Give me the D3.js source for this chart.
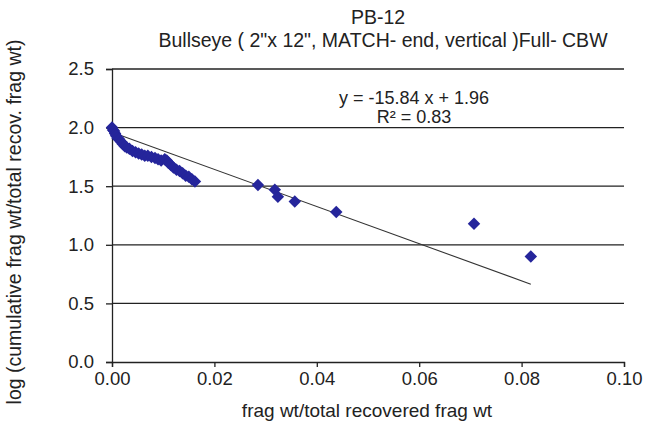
<!DOCTYPE html>
<html lang="en">
<head>
  <meta charset="UTF-8" />
  <title>PB-12 Bullseye scatter</title>
  <style>
    body { margin: 0; background: #fff; }
    svg { display: block; font-family: "Liberation Sans", Arial, sans-serif; }
  </style>
</head>
<body>
  <svg id="chart" width="659" height="437"></svg>
  <script src="https://d3js.org/d3.v7.min.js"></script>
  <script>
    // data
    const fragFrac = [0.0000,0.0002,0.0004,0.0006,0.0008,0.0011,0.0014,0.0018,0.0021,0.0025,
      0.0029,0.0034,0.0040,0.0046,0.0052,0.0058,0.0064,0.0070,0.0077,0.0084,0.0090,0.0096,
      0.0103,0.0107,0.0110,0.0115,0.0120,0.0126,0.0132,0.0138,0.0144,0.0150,0.0156,0.0162,
      0.0285,0.0318,0.0324,0.0357,0.0438,0.0707,0.0818];
    const logCum = [2.00,1.98,1.97,1.95,1.93,1.91,1.90,1.88,1.86,1.84,
      1.83,1.82,1.80,1.79,1.78,1.77,1.76,1.76,1.75,1.74,1.73,1.72,
      1.73,1.72,1.70,1.68,1.66,1.64,1.63,1.61,1.59,1.58,1.56,1.54,
      1.51,1.47,1.41,1.37,1.28,1.18,0.90];
    const slope = -15.84, intercept = 1.96;
    const xTicks = [0, 0.02, 0.04, 0.06, 0.08, 0.10];
    const yTicks = [0, 0.5, 1.0, 1.5, 2.0, 2.5];

    const svg = d3.select("#chart");
    const plotL = 112, plotR = 624, plotT = 69, plotB = 362;
    const ink = "#222";

    const x = d3.scaleLinear().domain([0, 0.10]).range([plotL, plotR]);
    const y = d3.scaleLinear().domain([0, 2.5]).range([plotB, plotT]);

    // gridlines
    svg.append("g")
      .selectAll("line")
      .data(yTicks.filter(d => d > 0))
      .enter().append("line")
      .attr("x1", plotL).attr("x2", plotR)
      .attr("y1", d => y(d)).attr("y2", d => y(d))
      .attr("stroke", ink).attr("stroke-width", 1.3);

    // y axis
    const yAxis = svg.append("g")
      .attr("transform", `translate(${plotL},0)`)
      .call(d3.axisLeft(y).tickValues(yTicks).tickFormat(d3.format(".1f")).tickSize(6).tickPadding(12));
    yAxis.select(".domain").attr("stroke", ink).attr("stroke-width", 1.3);
    yAxis.selectAll("line").attr("stroke", ink).attr("stroke-width", 1.3);
    yAxis.selectAll("text").attr("font-size", 18.5).attr("fill", ink)
      .attr("font-family", "Liberation Sans, Arial, sans-serif");

    // x axis
    const xAxis = svg.append("g")
      .attr("transform", `translate(0,${plotB})`)
      .call(d3.axisBottom(x).tickValues(xTicks).tickFormat(d3.format(".2f")).tickSize(5).tickPadding(5));
    xAxis.select(".domain").attr("stroke", ink).attr("stroke-width", 1.3);
    xAxis.selectAll("line").attr("stroke", ink).attr("stroke-width", 1.3);
    xAxis.selectAll("text").attr("font-size", 18.5).attr("fill", ink)
      .attr("font-family", "Liberation Sans, Arial, sans-serif");

    // trendline
    const xMax = d3.max(fragFrac);
    svg.append("line")
      .attr("x1", x(0)).attr("y1", y(intercept))
      .attr("x2", x(xMax)).attr("y2", y(intercept + slope * xMax))
      .attr("stroke", "#333").attr("stroke-width", 1.1);

    // square diamond marker
    const diamond = {
      draw(ctx, size) {
        const r = Math.sqrt(size / 2);
        ctx.moveTo(0, -r); ctx.lineTo(r, 0); ctx.lineTo(0, r); ctx.lineTo(-r, 0); ctx.closePath();
      }
    };
    const pts = fragFrac.map((v, i) => ({ fx: v, ly: logCum[i] }));
    svg.append("g")
      .selectAll("path")
      .data(pts)
      .enter().append("path")
      .attr("d", d3.symbol().type(diamond).size(78))
      .attr("transform", d => `translate(${x(d.fx)},${y(d.ly)})`)
      .attr("fill", "#25259b");

    // titles
    svg.append("text").attr("x", 378).attr("y", 24).attr("text-anchor", "middle")
      .attr("font-size", 19.5).attr("fill", ink).text("PB-12");
    svg.append("text").attr("x", 383).attr("y", 47).attr("text-anchor", "middle")
      .attr("font-size", 19.5).attr("fill", ink)
      .text("Bullseye  ( 2\"x 12\", MATCH- end, vertical )Full- CBW");

    // equation
    svg.append("text").attr("x", 414).attr("y", 104).attr("text-anchor", "middle")
      .attr("font-size", 18).attr("fill", ink).text("y = -15.84 x + 1.96");
    svg.append("text").attr("x", 414).attr("y", 123).attr("text-anchor", "middle")
      .attr("font-size", 18).attr("fill", ink).text("R² = 0.83");

    // axis labels
    svg.append("text").attr("x", 367).attr("y", 417).attr("text-anchor", "middle")
      .attr("font-size", 19).attr("fill", ink).text("frag wt/total recovered frag wt");
    svg.append("text")
      .attr("transform", "translate(21,222) rotate(-90)")
      .attr("text-anchor", "middle")
      .attr("font-size", 19.5).attr("fill", ink)
      .text("log (cumulative frag wt/total recov. frag wt)");
  </script>
</body>
</html>
